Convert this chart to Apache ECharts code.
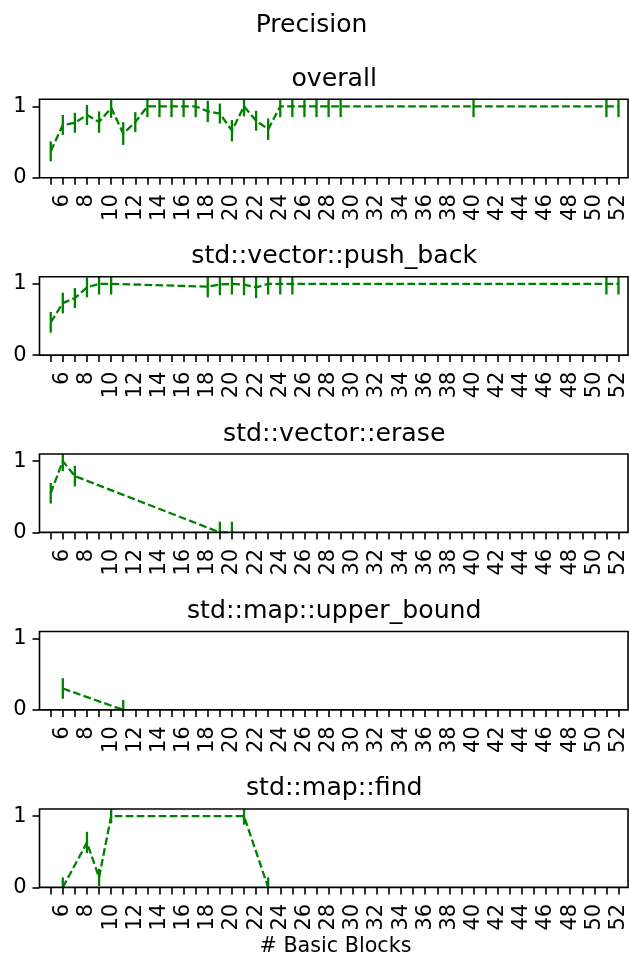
<!DOCTYPE html>
<html>
<head>
<meta charset="utf-8">
<script src="https://cdn.jsdelivr.net/npm/echarts@6/dist/echarts.min.js"></script>
<style>
html, body { margin: 0; padding: 0; background: #fff; }
#chart { width: 629px; height: 956px; }
</style>
</head>
<body>
<div id="chart"></div>
<script>
// ---- data ----
const suptitle = 'Precision';
const xAxisName = '# Basic Blocks';
const panelTitles = ['overall', 'std::vector::push_back', 'std::vector::erase', 'std::map::upper_bound', 'std::map::find'];

const xTickValues = [5,6,7,8,9,10,11,12,13,14,15,16,17,18,19,20,21,22,23,24,25,26,27,28,29,30,31,32,33,34,35,36,37,38,39,40,41,42,43,44,45,46,47,48,49,50,51,52];
const xTickLabels = [6,8,10,12,14,16,18,20,22,24,26,28,30,32,34,36,38,40,42,44,46,48,50,52];
const yTickValues = [0, 1];

const overallX   = [5,6,7,8,9,10,11,12,13,14,15,16,17,18,19,20,21,22,23,24,25,26,27,28,29,40,51,52];
const overallY   = [0.37,0.74,0.77,0.88,0.78,0.98,0.62,0.78,1,1,1,1,1,0.93,0.9,0.66,1,0.8,0.68,1,1,1,1,1,1,1,1,1];
const overallErr = [0.14,0.14,0.14,0.14,0.15,0.14,0.16,0.14,0.15,0.15,0.15,0.15,0.15,0.15,0.14,0.15,0.14,0.14,0.15,0.15,0.15,0.15,0.15,0.15,0.15,0.15,0.15,0.15];

const pushX   = [5,6,7,8,9,10,18,19,20,21,22,23,24,25,51,52];
const pushY   = [0.46,0.73,0.8,0.95,1,1,0.96,0.99,1,0.99,0.95,1,1,1,1,1];
const pushErr = [0.145,0.145,0.14,0.14,0.15,0.15,0.15,0.15,0.15,0.15,0.15,0.15,0.15,0.15,0.15,0.15];

const eraseX   = [5,6,7,19,20];
const eraseY   = [0.55,1,0.79,0,0];
const eraseErr = [0.145,0.14,0.145,0.15,0.15];

const upperX   = [6,11];
const upperY   = [0.3,0];
const upperErr = [0.145,0.14];

const findX   = [6,8,9,10,21,23];
const findY   = [0,0.63,0.14,1,1,0];
const findErr = [0.14,0.15,0.12,0.1,0.12,0.14];

const panels = [
  [overallX, overallY, overallErr],
  [pushX, pushY, pushErr],
  [eraseX, eraseY, eraseErr],
  [upperX, upperY, upperErr],
  [findX, findY, findErr]
];

// ---- layout / style ----
const FONT = 'DejaVu Sans';
const GREEN = '#008000';
const gridTops = [99.3, 276.7, 454, 631.5, 809];
const gridH = 78.4;
const gridLeft = 39.5;
const gridW = 589.5;
const titleMid = [79.5, 256.8, 434.1, 611.4, 788.7];

const chart = echarts.init(document.getElementById('chart'), null, { renderer: 'canvas', devicePixelRatio: 1 });

function renderErr(params, api) {
  const x = api.value(0), y = api.value(1), e = api.value(2);
  const p1 = api.coord([x, y - e]);
  const p2 = api.coord([x, y + e]);
  const cs = params.coordSys;
  const top = cs.y, bot = cs.y + cs.height;
  const clamp = v => Math.min(Math.max(v, top), bot);
  return {
    type: 'line',
    shape: { x1: p1[0], y1: clamp(p1[1]), x2: p2[0], y2: clamp(p2[1]) },
    style: { stroke: GREEN, lineWidth: 2.3 }
  };
}

const grids = [], xAxes = [], yAxes = [], series = [], graphics = [];
panels.forEach((p, i) => {
  grids.push({
    left: gridLeft, top: gridTops[i], width: gridW, height: gridH,
    show: true, borderColor: '#000', borderWidth: 1.6, backgroundColor: 'transparent', z: 5
  });
  xAxes.push({
    type: 'value', gridIndex: i, min: 4.07, max: 52.79,
    axisLine: { show: false },
    axisTick: { show: true, customValues: xTickValues, length: 7, lineStyle: { color: '#000', width: 1.6 } },
    axisLabel: { show: true, customValues: xTickLabels, rotate: 90, margin: 16.5, fontSize: 21, color: '#000', fontFamily: FONT },
    splitLine: { show: false }
  });
  yAxes.push({
    type: 'value', gridIndex: i, min: 0, max: 1.1,
    axisLine: { show: false },
    axisTick: { show: true, customValues: yTickValues, length: 7, lineStyle: { color: '#000', width: 1.6 } },
    axisLabel: { show: true, customValues: yTickValues, margin: 13, fontSize: 21, color: '#000', fontFamily: FONT },
    splitLine: { show: false }
  });
  const [xs, ys, es] = p;
  series.push({
    type: 'line', xAxisIndex: i, yAxisIndex: i,
    data: xs.map((x, k) => [x, ys[k]]),
    symbol: 'none', showSymbol: false,
    lineStyle: { color: GREEN, width: 2.3, type: [7.7, 3.3] },
    z: 2, animation: false
  });
  series.push({
    type: 'custom', xAxisIndex: i, yAxisIndex: i,
    data: xs.map((x, k) => [x, ys[k], es[k]]),
    renderItem: renderErr,
    encode: { x: 0, y: 1 },
    z: 2, animation: false
  });
  graphics.push({
    type: 'text', x: gridLeft + gridW / 2, y: titleMid[i],
    style: { text: panelTitles[i], fontSize: 25.2, fontFamily: FONT, fill: '#000',
             align: 'center', verticalAlign: 'middle', textAlign: 'center', textVerticalAlign: 'middle' }
  });
});

graphics.push({
  type: 'text', x: 311.5, y: 25,
  style: { text: suptitle, fontSize: 25, fontFamily: FONT, fill: '#000',
           align: 'center', verticalAlign: 'middle', textAlign: 'center', textVerticalAlign: 'middle' }
});
graphics.push({
  type: 'text', x: 335.5, y: 946.3,
  style: { text: xAxisName, fontSize: 20.7, fontFamily: FONT, fill: '#000',
           align: 'center', verticalAlign: 'middle', textAlign: 'center', textVerticalAlign: 'middle' }
});

chart.setOption({
  animation: false,
  backgroundColor: '#fff',
  grid: grids,
  xAxis: xAxes,
  yAxis: yAxes,
  series: series,
  graphic: graphics
});
</script>
</body>
</html>
